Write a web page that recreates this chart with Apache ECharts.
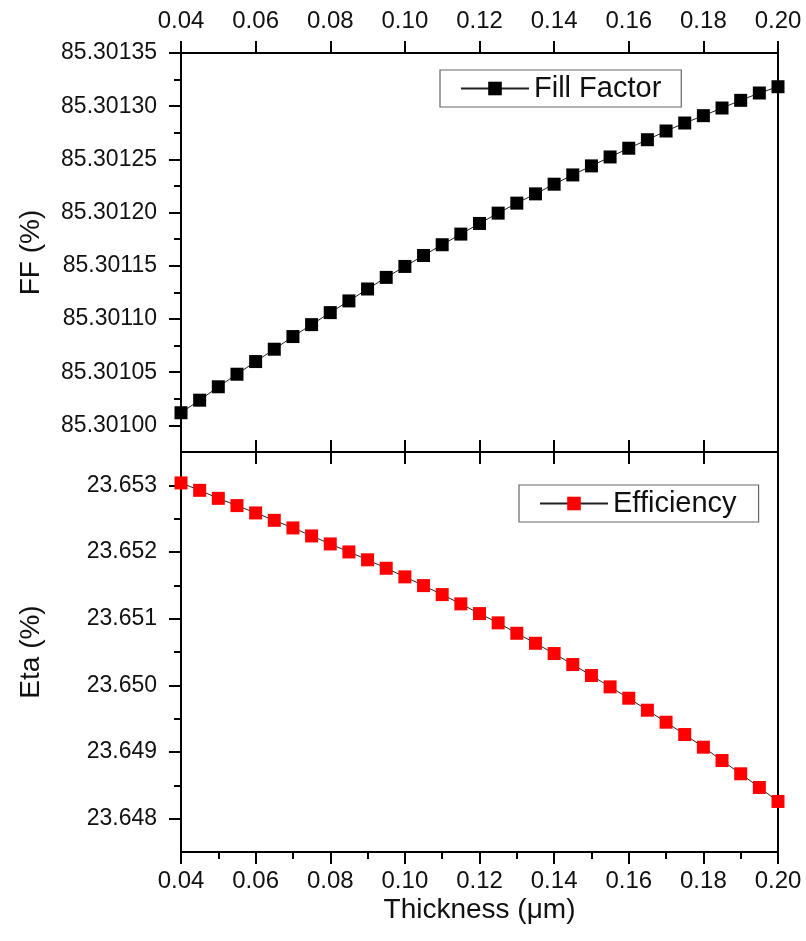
<!DOCTYPE html>
<html>
<head>
<meta charset="utf-8">
<script src="https://cdn.jsdelivr.net/npm/echarts@6/dist/echarts.min.js"></script>
<style>
  html, body { margin: 0; padding: 0; background: #fff; }
  #chart { width: 806px; height: 941px; }
</style>
</head>
<body>
<div id="chart"></div>
<script>
// Layer thickness (µm), sampled every 0.005
const thickness = [
  0.040, 0.045, 0.050, 0.055, 0.060, 0.065, 0.070, 0.075, 0.080, 0.085, 0.090,
  0.095, 0.100, 0.105, 0.110, 0.115, 0.120, 0.125, 0.130, 0.135, 0.140, 0.145,
  0.150, 0.155, 0.160, 0.165, 0.170, 0.175, 0.180, 0.185, 0.190, 0.195, 0.200
];

// Fill factor (%)
const fillFactor = [
  85.3010119, 85.3010237, 85.3010363, 85.3010481, 85.3010600, 85.3010716,
  85.3010835, 85.3010947, 85.3011060, 85.3011170, 85.3011282, 85.3011391,
  85.3011494, 85.3011597, 85.3011698, 85.3011798, 85.3011898, 85.3011995,
  85.3012089, 85.3012176, 85.3012267, 85.3012354, 85.3012439, 85.3012523,
  85.3012605, 85.3012685, 85.3012767, 85.3012842, 85.3012911, 85.3012983,
  85.3013055, 85.3013124, 85.3013183
];

// Efficiency (%)
const efficiency = [
  23.653036, 23.652925, 23.652805, 23.652696, 23.652586, 23.652475,
  23.652361, 23.652241, 23.652121, 23.652001, 23.651883, 23.651756,
  23.651627, 23.651496, 23.651361, 23.651222, 23.651076, 23.650937,
  23.650781, 23.650631, 23.650477, 23.650312, 23.650147, 23.649977,
  23.649807, 23.649627, 23.649447, 23.649262, 23.649072, 23.648872,
  23.648673, 23.648468, 23.648258
];

// Axis ticks
const xTicks = [0.04, 0.06, 0.08, 0.10, 0.12, 0.14, 0.16, 0.18, 0.20];
const xMinorTicks = [0.05, 0.07, 0.09, 0.11, 0.13, 0.15, 0.17, 0.19];
const ffTicks = [85.30100, 85.30105, 85.30110, 85.30115, 85.30120, 85.30125, 85.30130, 85.30135];
const ffMinorTicks = [85.301025, 85.301075, 85.301125, 85.301175, 85.301225, 85.301275, 85.301325];
const etaTicks = [23.648, 23.649, 23.650, 23.651, 23.652, 23.653];
const etaMinorTicks = [23.6485, 23.6495, 23.6505, 23.6515, 23.6525];

const FONT = "'Liberation Sans', Arial, sans-serif";
const X_MIN = 0.04, X_MAX = 0.20;
const FF_MIN = 85.300975, FF_MAX = 85.30135;
const ETA_MIN = 23.6475, ETA_MAX = 23.6535;

const chart = echarts.init(document.getElementById('chart'), null, { renderer: 'canvas' });

const lineBlack = { color: '#000', width: 2 };
const xLabelStyle = { color: '#111', fontSize: 24, fontFamily: FONT };
const yLabelStyle = { color: '#111', fontSize: 23, fontFamily: FONT };
const titleStyle = { color: '#111', fontSize: 28, fontFamily: FONT };

function xAxisBase(gridIndex, position) {
  return {
    type: 'value', gridIndex, position, min: X_MIN, max: X_MAX,
    splitLine: { show: false },
    axisLine: { show: false },
    axisLabel: { show: false },
    axisTick: { show: false }
  };
}

const xAxes = [
  // top edge of upper panel: labels above, ticks outward
  Object.assign(xAxisBase(0, 'top'), {
    axisLabel: { show: true, customValues: xTicks, margin: 20, formatter: v => v.toFixed(2), ...xLabelStyle },
    axisTick: { show: true, customValues: xTicks, inside: false, length: 12, lineStyle: lineBlack }
  }),
  // divider, upper side
  Object.assign(xAxisBase(0, 'bottom'), {
    axisTick: { show: true, customValues: xTicks, inside: true, length: 12, lineStyle: lineBlack }
  }),
  // divider, lower side
  Object.assign(xAxisBase(1, 'top'), {
    axisTick: { show: true, customValues: xTicks, inside: true, length: 12, lineStyle: lineBlack }
  }),
  // bottom edge: labels, major ticks and title
  Object.assign(xAxisBase(1, 'bottom'), {
    name: 'Thickness (μm)', nameLocation: 'middle', nameGap: 44,
    nameTextStyle: titleStyle,
    axisLabel: { show: true, customValues: xTicks, margin: 17, formatter: v => v.toFixed(2), ...xLabelStyle },
    axisTick: { show: true, customValues: xTicks, inside: false, length: 12, lineStyle: lineBlack }
  }),
  // bottom edge: minor ticks
  Object.assign(xAxisBase(1, 'bottom'), {
    axisTick: { show: true, customValues: xMinorTicks, inside: false, length: 7, lineStyle: lineBlack }
  })
];

function yAxisBase(gridIndex, min, max) {
  return {
    type: 'value', gridIndex, position: 'left', min, max,
    splitLine: { show: false },
    axisLine: { show: false },
    axisLabel: { show: false },
    axisTick: { show: false }
  };
}

const yAxes = [
  Object.assign(yAxisBase(0, FF_MIN, FF_MAX), {
    name: 'FF (%)', nameLocation: 'middle', nameGap: 136, nameRotate: 90,
    nameTextStyle: titleStyle,
    axisLabel: { show: true, customValues: ffTicks, margin: 24, formatter: v => v.toFixed(5), ...yLabelStyle },
    axisTick: { show: true, customValues: ffTicks, inside: false, length: 12, lineStyle: lineBlack }
  }),
  Object.assign(yAxisBase(0, FF_MIN, FF_MAX), {
    axisTick: { show: true, customValues: ffMinorTicks, inside: false, length: 7, lineStyle: lineBlack }
  }),
  Object.assign(yAxisBase(1, ETA_MIN, ETA_MAX), {
    name: 'Eta (%)', nameLocation: 'middle', nameGap: 136, nameRotate: 90,
    nameTextStyle: titleStyle,
    axisLabel: { show: true, customValues: etaTicks, margin: 24, formatter: v => v.toFixed(3), ...yLabelStyle },
    axisTick: { show: true, customValues: etaTicks, inside: false, length: 12, lineStyle: lineBlack }
  }),
  Object.assign(yAxisBase(1, ETA_MIN, ETA_MAX), {
    axisTick: { show: true, customValues: etaMinorTicks, inside: false, length: 7, lineStyle: lineBlack }
  })
];

const legendBase = {
  orient: 'horizontal',
  itemWidth: 68, itemHeight: 17,
  borderColor: '#666', borderWidth: 1.2,
  backgroundColor: '#fff',
  textStyle: { color: '#111', fontSize: 29, fontFamily: FONT }
};

chart.setOption({
  animation: false,
  backgroundColor: '#fff',
  grid: [
    { left: 181, right: 28, top: 53, height: 399, show: true, borderColor: '#000', borderWidth: 2, backgroundColor: 'transparent' },
    { left: 181, right: 28, top: 452, height: 400, show: true, borderColor: '#000', borderWidth: 2, backgroundColor: 'transparent' }
  ],
  xAxis: xAxes,
  yAxis: yAxes,
  legend: [
    Object.assign({ data: ['Fill Factor'], left: 440, top: 70, padding: [4, 20, 4, 20] }, legendBase),
    Object.assign({ data: ['Efficiency'], left: 519, top: 485, padding: [4, 22, 4, 20] }, legendBase)
  ],
  series: [
    {
      name: 'Fill Factor', type: 'line', xAxisIndex: 0, yAxisIndex: 0,
      data: thickness.map((t, i) => [t, fillFactor[i]]),
      symbol: 'rect', symbolSize: 13, showSymbol: true,
      lineStyle: { color: '#222', width: 1 },
      itemStyle: { color: '#000' },
      clip: false
    },
    {
      name: 'Efficiency', type: 'line', xAxisIndex: 3, yAxisIndex: 2,
      data: thickness.map((t, i) => [t, efficiency[i]]),
      symbol: 'rect', symbolSize: 13, showSymbol: true,
      lineStyle: { color: '#222', width: 1 },
      itemStyle: { color: '#f00' },
      clip: false
    }
  ]
});
</script>
</body>
</html>
